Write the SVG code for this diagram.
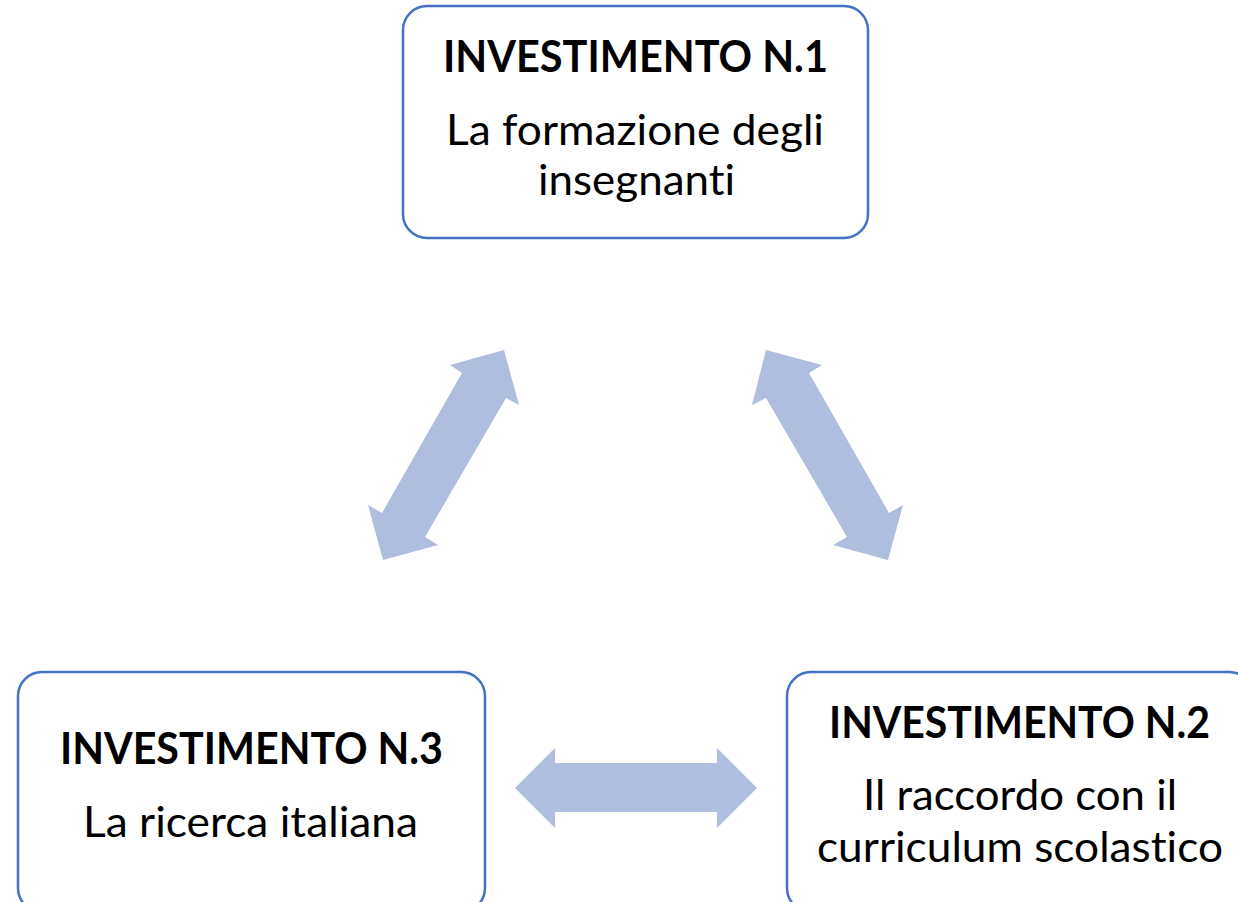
<svg xmlns="http://www.w3.org/2000/svg" width="1238" height="902" viewBox="0 0 1238 902">
<style>
.box{fill:#FFFFFF;stroke:#4472C4;stroke-width:2.5}
.t{font-family:Lato,"Open Sans","Liberation Sans",sans-serif;font-size:43px;fill:#000000;text-anchor:middle;font-variant-ligatures:none;font-feature-settings:"liga" 0,"clig" 0}
.b{font-weight:bold}
.arr{fill:#AFBDDF}
</style>
<rect width="1238" height="902" fill="#FFFFFF"/>
<g id="connectors">
<polygon class="arr" points="504,350 519,405 506,398 425,537 438,545 383,560 368,505 382,513 462,373 450,365"/>
<polygon class="arr" points="766,350 822,365 809,373 889,513 903,505 888,560 833,545 847,537 766,398 752,405"/>
<polygon class="arr" points="515,788 555,748 555,763 717,763 717,748 757,788 717,828 717,812 555,812 555,828"/>
</g>
<g id="node1">
<rect class="box" x="403" y="6" width="465" height="232" rx="24"/>
<text class="t b" x="635.5" y="72" textLength="385" lengthAdjust="spacingAndGlyphs">INVESTIMENTO N.1</text>
<text class="t" x="635" y="145" textLength="378" lengthAdjust="spacingAndGlyphs">La formazione degli</text>
<text class="t" x="636.5" y="195" textLength="197" lengthAdjust="spacingAndGlyphs">insegnanti</text>
</g>
<g id="node3">
<rect class="box" x="18" y="672" width="467" height="240" rx="24"/>
<text class="t b" x="251.5" y="764" textLength="383" lengthAdjust="spacingAndGlyphs">INVESTIMENTO N.3</text>
<text class="t" x="250.5" y="837" textLength="335" lengthAdjust="spacingAndGlyphs">La ricerca italiana</text>
</g>
<g id="node2">
<rect class="box" x="787" y="672" width="466" height="240" rx="24"/>
<text class="t b" x="1019.5" y="738" textLength="381" lengthAdjust="spacingAndGlyphs">INVESTIMENTO N.2</text>
<text class="t" x="1020" y="810" textLength="314" lengthAdjust="spacingAndGlyphs">Il raccordo con il</text>
<text class="t" x="1020" y="862" textLength="406" lengthAdjust="spacingAndGlyphs">curriculum scolastico</text>
</g>
</svg>
